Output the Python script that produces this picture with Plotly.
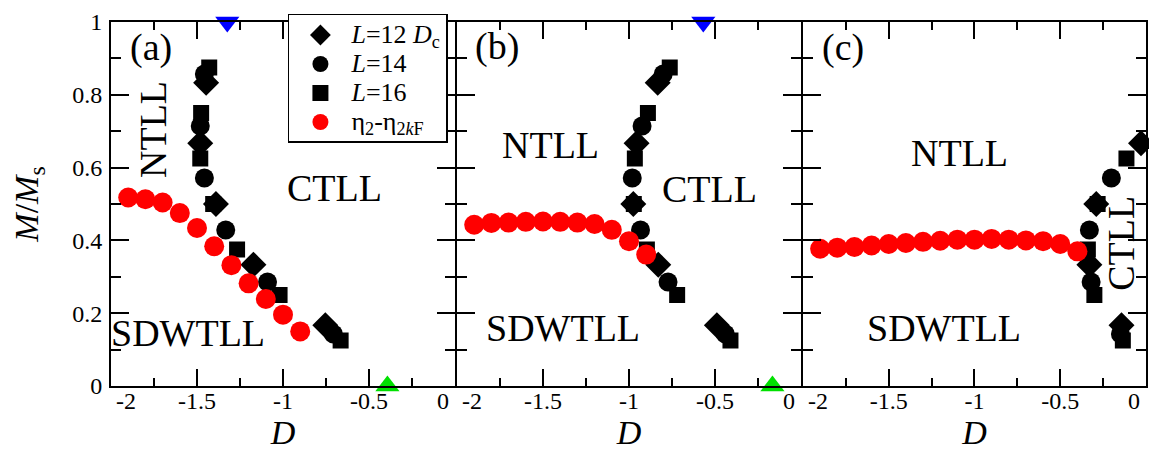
import plotly.graph_objects as go

FONT = "Liberation Serif"

# ---------------- data ----------------
# panel (a)
a_l12_d = [-0.754, -1.172, -1.390, -1.481, -1.447]
a_l12_m = [0.1667, 0.3333, 0.5000, 0.6667, 0.8333]
a_l14_d = [-0.707, -1.090, -1.333, -1.457, -1.481, -1.457]
a_l14_m = [0.1429, 0.2857, 0.4286, 0.5714, 0.7143, 0.8571]
a_l16_d = [-0.665, -1.020, -1.267, -1.406, -1.481, -1.476, -1.429]
a_l16_m = [0.125, 0.250, 0.375, 0.500, 0.625, 0.750, 0.875]
a_eta_d = [-1.9, -1.8, -1.7, -1.6, -1.5, -1.4, -1.3, -1.2, -1.1, -1.0, -0.9]
a_eta_m = [0.518, 0.513, 0.504, 0.475, 0.434, 0.384, 0.332, 0.282, 0.239, 0.196, 0.150]

# panel (b)
b_l12_d = [-0.489, -0.830, -0.975, -0.956, -0.833]
b_l12_m = [0.1667, 0.3333, 0.5000, 0.6667, 0.8333]
b_l14_d = [-0.440, -0.773, -0.933, -0.981, -0.924, -0.801]
b_l14_m = [0.1429, 0.2857, 0.4286, 0.5714, 0.7143, 0.8571]
b_l16_d = [-0.410, -0.720, -0.896, -0.972, -0.966, -0.890, -0.763]
b_l16_m = [0.125, 0.250, 0.375, 0.500, 0.625, 0.750, 0.875]
b_eta_d = [-1.9, -1.8, -1.7, -1.6, -1.5, -1.4, -1.3, -1.2, -1.1, -1.0, -0.9]
b_eta_m = [0.443, 0.448, 0.449, 0.451, 0.452, 0.451, 0.449, 0.445, 0.429, 0.398, 0.361]

# panel (c)
c_l12_d = [-0.143, -0.330, -0.290, -0.029]
c_l12_m = [0.1667, 0.3333, 0.5000, 0.6667]
c_l14_d = [-0.149, -0.320, -0.330, -0.202]
c_l14_m = [0.1429, 0.2857, 0.4286, 0.5714]
c_l16_d = [-0.135, -0.301, -0.339, -0.282, -0.114]
c_l16_m = [0.125, 0.250, 0.375, 0.500, 0.625]
c_eta_d = [-1.9, -1.8, -1.7, -1.6, -1.5, -1.4, -1.3, -1.2, -1.1, -1.0,
           -0.9, -0.8, -0.7, -0.6, -0.5, -0.4]
c_eta_m = [0.377, 0.380, 0.382, 0.386, 0.390, 0.393, 0.396, 0.399, 0.402, 0.402,
           0.404, 0.402, 0.400, 0.398, 0.390, 0.370]

# markers on the frame (panels a, b)
blue_d = [-1.324, -0.568]
blue_m = [1.0, 1.0]
green_d = [-0.393, -0.166]
green_m = [0.0, 0.0]

NB = "\u00a0"
x_tickvals = [-2, -1.5, -1, -0.5, 0]
x_ticktext = [NB * 5 + "-2", "-1.5", "-1", "-0.5", "0" + NB * 4]
y_tickvals = [0, 0.2, 0.4, 0.6, 0.8, 1]
y_ticktext = ["0", "0.2", "0.4", "0.6", "0.8", "1"]

legend_names = ["<i>L</i>=12 <i>D</i><sub>c</sub>", "<i>L</i>=14", "<i>L</i>=16",
                "\u03b7<sub>2</sub>-\u03b7<sub>2<i>k</i>F</sub>"]

panels = [
    ("x", "y", (a_l12_d, a_l12_m), (a_l14_d, a_l14_m), (a_l16_d, a_l16_m), (a_eta_d, a_eta_m)),
    ("x2", "y2", (b_l12_d, b_l12_m), (b_l14_d, b_l14_m), (b_l16_d, b_l16_m), (b_eta_d, b_eta_m)),
    ("x3", "y3", (c_l12_d, c_l12_m), (c_l14_d, c_l14_m), (c_l16_d, c_l16_m), (c_eta_d, c_eta_m)),
]

styles = [
    dict(symbol="diamond", size=20, color="black"),
    dict(symbol="circle", size=19, color="black"),
    dict(symbol="square", size=16, color="black"),
    dict(symbol="circle", size=20, color="#ff0000"),
]

fig = go.Figure()
for pi, (xa, ya, *series) in enumerate(panels):
    for si, (dd, mm) in enumerate(series):
        fig.add_trace(go.Scatter(
            x=dd, y=mm, xaxis=xa, yaxis=ya, mode="markers",
            marker=dict(symbol=styles[si]["symbol"], size=styles[si]["size"],
                        color=styles[si]["color"], line=dict(width=0)),
            name='<span style="font-size:26px">' + legend_names[si] + "</span>",
            showlegend=(pi == 0), cliponaxis=False,
        ))

for i, (xa, ya) in enumerate([("x", "y"), ("x2", "y2")]):
    fig.add_trace(go.Scatter(x=[blue_d[i]], y=[blue_m[i]], xaxis=xa, yaxis=ya, mode="markers",
                             marker=dict(symbol="triangle-down", size=21, color="#0000ff"),
                             showlegend=False, cliponaxis=False))
    fig.add_trace(go.Scatter(x=[green_d[i]], y=[green_m[i]], xaxis=xa, yaxis=ya, mode="markers",
                             marker=dict(symbol="triangle-up", size=21, color="#00e000"),
                             showlegend=False, cliponaxis=False))

tickfont = dict(family=FONT, size=24, color="black")
common_x = dict(range=[-2, 0], tickvals=x_tickvals, ticktext=x_ticktext,
                ticks="inside", ticklen=17, tickwidth=1.5, tickcolor="black",
                minor=dict(ticks="inside", ticklen=8, tickwidth=1.5, tickcolor="black", dtick=0.25, tick0=0),
                showline=True, linewidth=2, linecolor="black", mirror="allticks",
                showgrid=False, zeroline=False, tickfont=tickfont,
                ticklabeloverflow="allow", ticklabelstandoff=-8,
                title=dict(text="<i>D</i>", font=dict(family=FONT, size=34, color="black"), standoff=0))
common_y = dict(range=[0, 1], tickvals=y_tickvals, ticktext=y_ticktext,
                ticks="inside", ticklen=18, tickwidth=1.5, tickcolor="black",
                minor=dict(ticks="inside", ticklen=10, tickwidth=1.5, tickcolor="black", dtick=0.1, tick0=0),
                showline=True, linewidth=2, linecolor="black", mirror="allticks",
                showgrid=False, zeroline=False, tickfont=tickfont,
                ticklabeloverflow="allow")

PW = 1053.0
fig.update_layout(
    width=1157, height=449,
    margin=dict(l=103, r=1, t=10, b=71),
    paper_bgcolor="white", plot_bgcolor="white",
    font=dict(family=FONT, color="black"),
    xaxis=dict(domain=[0, 350 / PW], anchor="y", **common_x),
    xaxis2=dict(domain=[352 / PW, 702 / PW], anchor="y2", **common_x),
    xaxis3=dict(domain=[704 / PW, 1], anchor="y3", **common_x),
    yaxis=dict(domain=[0, 1], anchor="x", showticklabels=True, ticklabelstandoff=2,
               title=dict(text="<i>M</i>/<i>M</i><sub>s</sub>",
                          font=dict(family=FONT, size=34, color="black"), standoff=29),
               **common_y),
    yaxis2=dict(domain=[0, 1], anchor="x2", showticklabels=False, **common_y),
    yaxis3=dict(domain=[0, 1], anchor="x3", showticklabels=False, **common_y),
    showlegend=True,
    legend=dict(x=(283 - 103) / PW, y=1.022, xanchor="left", yanchor="top",
                bgcolor="white", bordercolor="black", borderwidth=1.5,
                font=dict(family=FONT, size=20, color="black"),
                itemsizing="trace", itemwidth=52, tracegroupgap=0),
)

ann_font = dict(family=FONT, size=38, color="black")
annotations = [
    ("x", "y", -1.766, 0.930, "(a)", 0),
    ("x", "y", -1.760, 0.704, "NTLL", -90),
    ("x", "y", -0.700, 0.545, "CTLL", 0),
    ("x", "y", -1.550, 0.145, "SDWTLL", 0),
    ("x2", "y2", -1.767, 0.933, "(b)", 0),
    ("x2", "y2", -1.455, 0.662, "NTLL", 0),
    ("x2", "y2", -0.534, 0.540, "CTLL", 0),
    ("x2", "y2", -1.381, 0.160, "SDWTLL", 0),
    ("x3", "y3", -1.766, 0.930, "(c)", 0),
    ("x3", "y3", -1.085, 0.640, "NTLL", 0),
    ("x3", "y3", -0.143, 0.392, "CTLL", -90),
    ("x3", "y3", -1.176, 0.160, "SDWTLL", 0),
]
for xr, yr, ax_, ay_, txt, ang in annotations:
    fig.add_annotation(xref=xr, yref=yr, x=ax_, y=ay_, text=txt, showarrow=False,
                       textangle=ang, font=ann_font, xanchor="center", yanchor="middle")

fig.write_html("out.html")
